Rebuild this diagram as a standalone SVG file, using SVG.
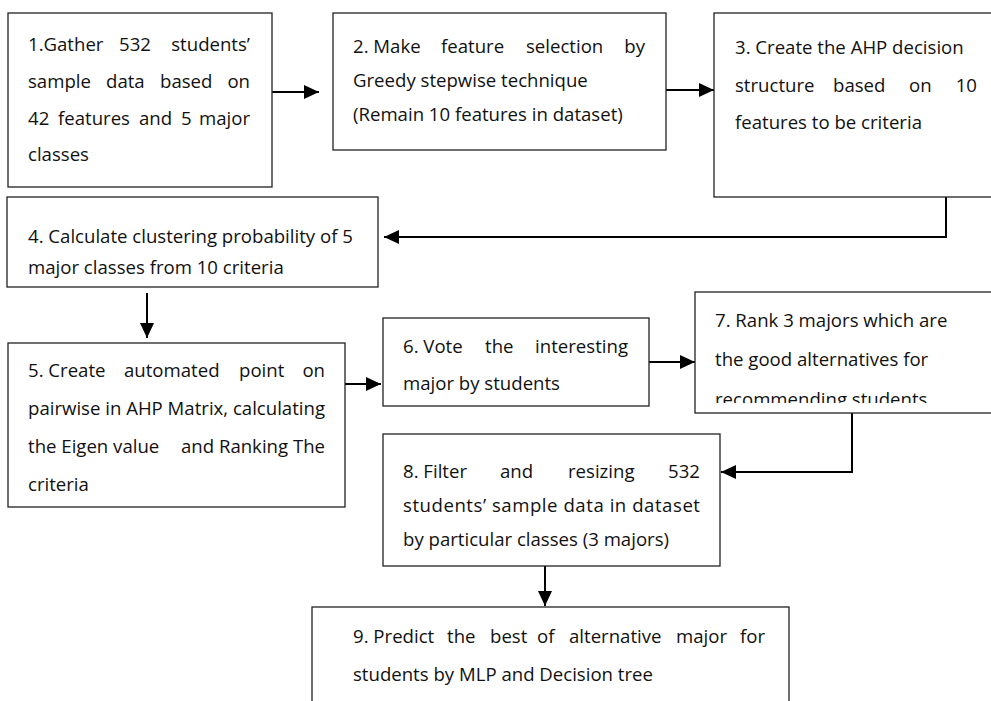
<svg xmlns="http://www.w3.org/2000/svg" width="991" height="701" viewBox="0 0 991 701">
<style>
.box{fill:#fff;stroke:#222;stroke-width:1.3}
.t{font-family:"Open Sans","Noto Sans","DejaVu Sans",sans-serif;font-size:18.6px;fill:#111}
.e{text-anchor:end}
.c{fill:none;stroke:#000;stroke-width:2}
</style>
<defs>
<marker id="ah" markerUnits="userSpaceOnUse" markerWidth="16" markerHeight="14" viewBox="0 0 16 14" refX="15" refY="7" orient="auto">
<path d="M0,0 L15,7 L0,14 Z" fill="#000"/>
</marker>
<clipPath id="clip7"><rect x="695" y="292" width="300" height="111"/></clipPath>
</defs>
<rect width="991" height="701" fill="#fff"/>

<g id="connectors">
<path class="c" d="M272,92 H319" marker-end="url(#ah)"/>
<path class="c" d="M666,90 H714" marker-end="url(#ah)"/>
<path class="c" d="M946,197 V237 H384" marker-end="url(#ah)"/>
<path class="c" d="M147,293 V338" marker-end="url(#ah)"/>
<path class="c" d="M345,384 H381" marker-end="url(#ah)"/>
<path class="c" d="M649,362 H695" marker-end="url(#ah)"/>
<path class="c" d="M852,413 V472 H721" marker-end="url(#ah)"/>
<path class="c" d="M545,566 V606" marker-end="url(#ah)"/>
</g>

<g id="n1">
<rect class="box" x="8" y="13" width="264" height="174"/>
<text class="t" y="51"><tspan x="28">1.Gather</tspan><tspan x="119">532</tspan><tspan x="250" class="e">students’</tspan></text>
<text class="t" y="88"><tspan x="28">sample</tspan><tspan x="106">data</tspan><tspan x="160">based</tspan><tspan x="250" class="e">on</tspan></text>
<text class="t" y="125"><tspan x="28">42</tspan><tspan x="58">features</tspan><tspan x="139">and</tspan><tspan x="181">5</tspan><tspan x="250" class="e">major</tspan></text>
<text class="t" x="28" y="161">classes</text>
</g>

<g id="n2">
<rect class="box" x="333" y="13" width="333" height="137"/>
<text class="t" y="53"><tspan x="353">2. Make</tspan><tspan x="441">feature</tspan><tspan x="526">selection</tspan><tspan x="645" class="e">by</tspan></text>
<text class="t" x="353" y="87">Greedy stepwise technique</text>
<text class="t" x="353" y="121">(Remain 10 features in dataset)</text>
</g>

<g id="n3">
<rect class="box" x="714" y="13" width="290" height="184"/>
<text class="t" x="735" y="54">3. Create the AHP decision</text>
<text class="t" y="92"><tspan x="735">structure</tspan><tspan x="833">based</tspan><tspan x="909">on</tspan><tspan x="977" class="e">10</tspan></text>
<text class="t" x="735" y="129">features to be criteria</text>
</g>

<g id="n4">
<rect class="box" x="7" y="197" width="371" height="90"/>
<text class="t" x="28" y="243">4. Calculate clustering probability of 5</text>
<text class="t" x="28" y="274">major classes from 10 criteria</text>
</g>

<g id="n5">
<rect class="box" x="8" y="343" width="337" height="164"/>
<text class="t" y="377"><tspan x="28">5. Create</tspan><tspan x="124">automated</tspan><tspan x="239">point</tspan><tspan x="325" class="e">on</tspan></text>
<text class="t" x="28" y="415" textLength="297" lengthAdjust="spacing">pairwise in AHP Matrix, calculating</text>
<text class="t" y="453"><tspan x="28">the Eigen value</tspan><tspan x="325" class="e">and Ranking The</tspan></text>
<text class="t" x="28" y="491">criteria</text>
</g>

<g id="n6">
<rect class="box" x="383" y="318" width="266" height="88"/>
<text class="t" y="353"><tspan x="403">6. Vote</tspan><tspan x="485">the</tspan><tspan x="628" class="e">interesting</tspan></text>
<text class="t" x="403" y="390">major by students</text>
</g>

<g id="n7">
<rect class="box" x="695" y="292" width="310" height="121"/>
<g clip-path="url(#clip7)">
<text class="t" x="715" y="327">7. Rank 3 majors which are</text>
<text class="t" x="715" y="366">the good alternatives for</text>
<text class="t" x="715" y="406">recommending students</text>
</g>
</g>

<g id="n8">
<rect class="box" x="383" y="434" width="337" height="132"/>
<text class="t" y="478"><tspan x="403">8. Filter</tspan><tspan x="500">and</tspan><tspan x="568">resizing</tspan><tspan x="700" class="e">532</tspan></text>
<text class="t" x="403" y="512" textLength="297" lengthAdjust="spacing">students’ sample data in dataset</text>
<text class="t" x="403" y="546">by particular classes (3 majors)</text>
</g>

<g id="n9">
<rect class="box" x="312" y="607" width="477" height="110"/>
<text class="t" y="643"><tspan x="353">9. Predict</tspan><tspan x="447">the</tspan><tspan x="490">best</tspan><tspan x="537">of</tspan><tspan x="569">alternative</tspan><tspan x="676">major</tspan><tspan x="765" class="e">for</tspan></text>
<text class="t" x="353" y="681">students by MLP and Decision tree</text>
</g>
</svg>
